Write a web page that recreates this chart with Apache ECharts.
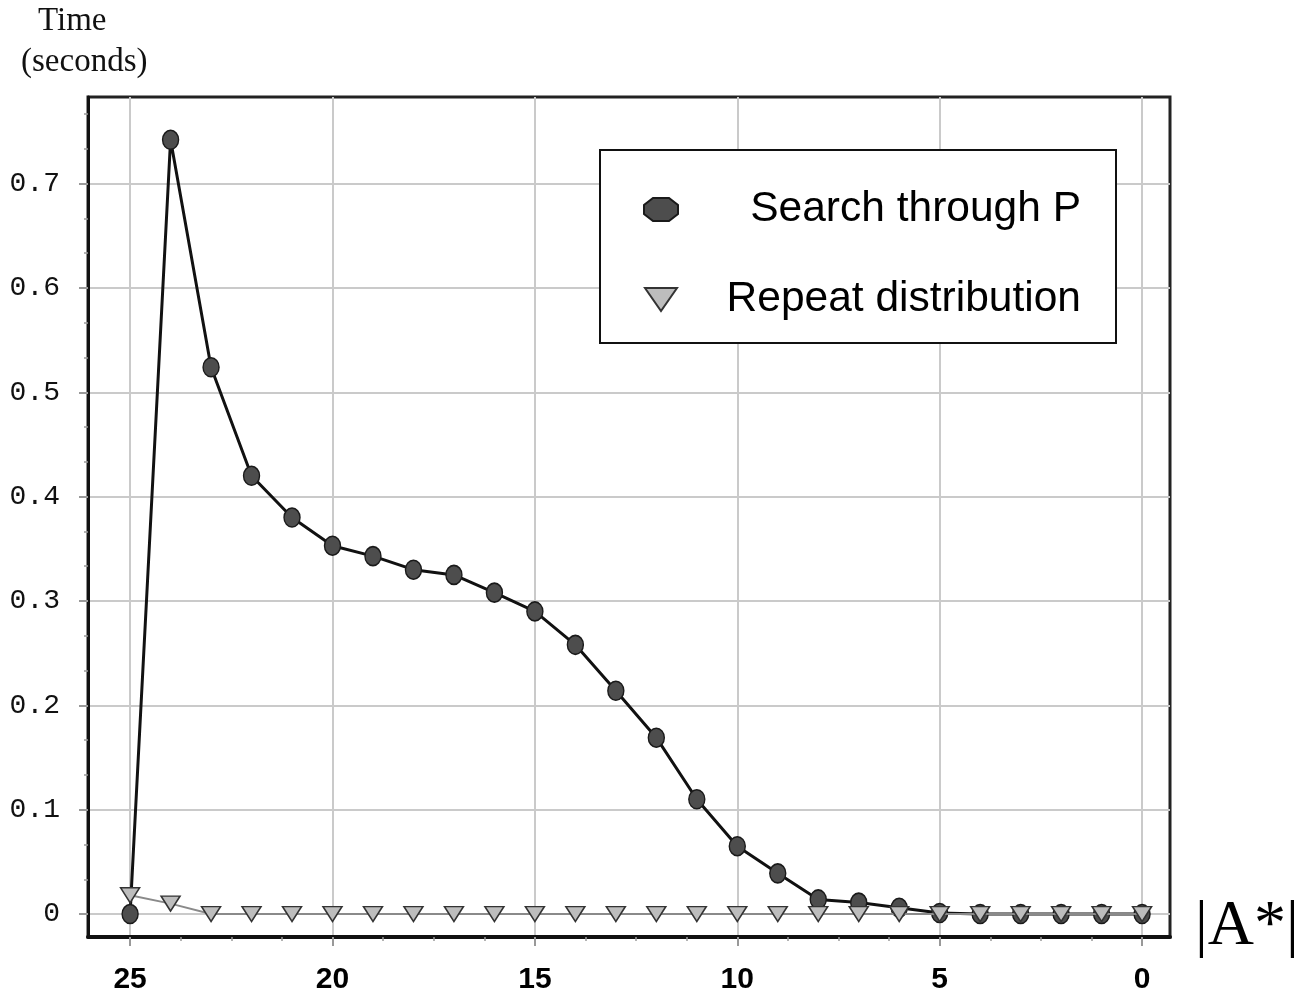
<!DOCTYPE html>
<html>
<head>
<meta charset="utf-8">
<script src="https://cdn.jsdelivr.net/npm/echarts@6/dist/echarts.min.js"></script>
<style>
  html, body { margin: 0; padding: 0; background: #fff; }
  #chart { width: 1299px; height: 995px; }
</style>
</head>
<body>
<div id="chart"></div>
<script>
// |A*| values, read right to left on the plot
var sizes = [25, 24, 23, 22, 21, 20, 19, 18, 17, 16, 15, 14, 13, 12, 11, 10, 9, 8, 7, 6, 5, 4, 3, 2, 1, 0];
var searchTimes = [0, 0.742, 0.524, 0.420, 0.380, 0.353, 0.343, 0.330, 0.325, 0.308, 0.290, 0.258, 0.214,
  0.169, 0.110, 0.065, 0.039, 0.014, 0.011, 0.006, 0.001, 0, 0, 0, 0, 0];
var repeatTimes = [0.018, 0.010, 0, 0, 0, 0, 0, 0, 0, 0, 0, 0, 0, 0, 0, 0, 0, 0, 0, 0, 0, 0, 0, 0, 0, 0];
var xTicks = [25, 20, 15, 10, 5, 0];
var yTicks = [0, 0.1, 0.2, 0.3, 0.4, 0.5, 0.6, 0.7];

function pairs(vals) {
  return sizes.map(function (s, i) { return [s, vals[i]]; });
}

var serifTitle = { fontFamily: 'Liberation Serif', fontSize: 33, fontWeight: 'normal', color: '#111' };

var myChart = echarts.init(document.getElementById('chart'));
myChart.setOption({
  animation: false,
  backgroundColor: '#fff',
  title: [
    { text: 'Time', left: 33, top: 0, textStyle: serifTitle },
    { text: '(seconds)', left: 16, top: 41, textStyle: serifTitle },
    { text: '|A*|', left: 1190, top: 890,
      textStyle: { fontFamily: 'Liberation Serif', fontSize: 64, fontWeight: 'normal', color: '#000' } }
  ],
  legend: {
    orient: 'vertical',
    left: 600,
    top: 150,
    padding: [38, 35, 22, 43],
    itemGap: 47,
    itemWidth: 34,
    itemHeight: 23,
    borderColor: '#111',
    borderWidth: 2,
    backgroundColor: '#fff',
    data: [
      { name: 'Search through P', icon: 'path://M9,0 L25,0 L34,7 L34,16 L25,23 L9,23 L0,16 L0,7 Z' },
      { name: 'Repeat distribution', icon: 'path://M0,0 L32,0 L16,23 Z' }
    ],
    formatter: '{a|{name}}',
    textStyle: {
      rich: {
        a: { width: 398, align: 'right', fontFamily: 'Liberation Sans', fontSize: 42.5, lineHeight: 50, color: '#000' }
      }
    }
  },
  grid: {
    left: 88, right: 129, top: 97, bottom: 56,
    show: true,
    borderColor: '#222',
    borderWidth: 3,
    containLabel: false
  },
  xAxis: {
    type: 'value',
    inverse: true,
    min: -0.69,
    max: 26.04,
    splitNumber: 5,
    axisLine: { show: true, onZero: false, lineStyle: { color: '#111', width: 4 } },
    axisTick: { show: true, customValues: xTicks, length: 9, lineStyle: { color: '#999', width: 2 } },
    minorTick: { show: true, splitNumber: 4, length: 4, lineStyle: { color: '#999', width: 1.5 } },
    axisLabel: {
      customValues: xTicks,
      margin: 28,
      fontFamily: 'Liberation Sans',
      fontWeight: 'bold',
      fontSize: 30,
      color: '#000'
    },
    splitLine: { show: true, lineStyle: { color: '#cacaca', width: 2 } }
  },
  yAxis: {
    type: 'value',
    min: -0.022,
    max: 0.783,
    splitNumber: 8,
    axisLine: { show: true, onZero: false, lineStyle: { color: '#111', width: 3 } },
    axisTick: { show: true, customValues: yTicks, length: 9, lineStyle: { color: '#999', width: 2 } },
    minorTick: { show: true, splitNumber: 3, length: 4, lineStyle: { color: '#999', width: 1.5 } },
    axisLabel: {
      customValues: yTicks,
      margin: 28,
      fontFamily: 'Liberation Mono',
      fontSize: 28,
      color: '#111',
      formatter: function (v) { return v === 0 ? '0' : v.toFixed(1); }
    },
    splitLine: { show: true, lineStyle: { color: '#cacaca', width: 2 } }
  },
  series: [
    {
      name: 'Search through P',
      type: 'line',
      data: pairs(searchTimes),
      symbol: 'circle',
      symbolSize: [16, 19],
      itemStyle: { color: '#4d4d4d', borderColor: '#1a1a1a', borderWidth: 1.5 },
      lineStyle: { color: '#111', width: 3 },
      z: 3
    },
    {
      name: 'Repeat distribution',
      type: 'line',
      data: pairs(repeatTimes),
      symbol: 'triangle',
      symbolRotate: 180,
      symbolSize: [19, 15],
      itemStyle: { color: '#bdbdbd', borderColor: '#333', borderWidth: 1.5 },
      lineStyle: { color: '#8a8a8a', width: 2 },
      z: 4
    }
  ]
});
</script>
</body>
</html>
